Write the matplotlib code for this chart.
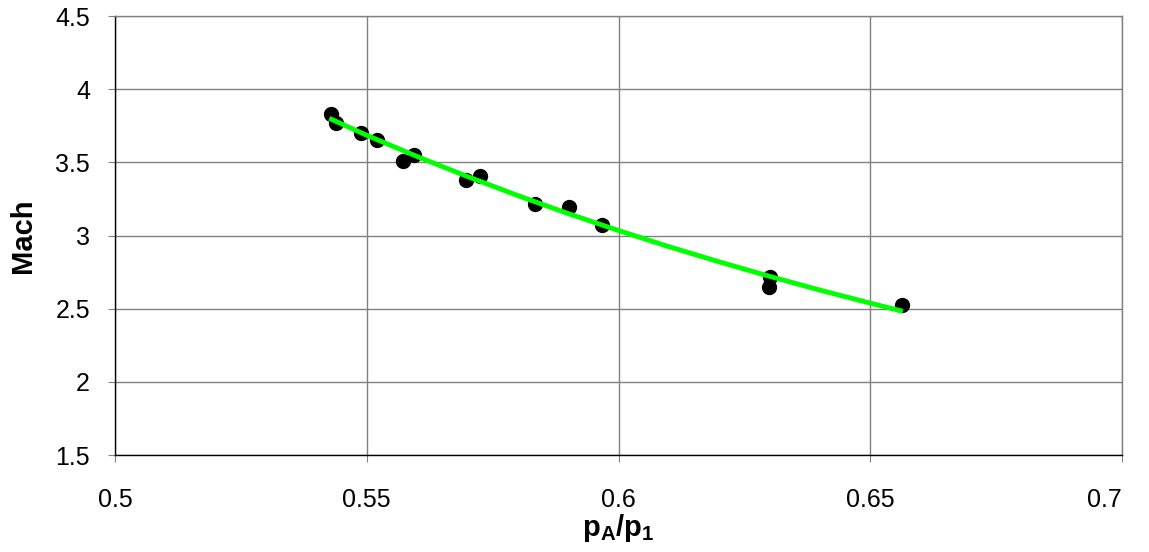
import matplotlib
matplotlib.use('Agg')
import matplotlib.pyplot as plt

plt.rcParams['font.family'] = ['Liberation Sans', 'DejaVu Sans']
plt.rcParams['mathtext.fontset'] = 'custom'
plt.rcParams['mathtext.rm'] = 'Liberation Sans'
plt.rcParams['mathtext.bf'] = 'Liberation Sans:bold'

# measured pressure ratio vs Mach number
pressure_ratio = [0.5429, 0.5439, 0.5488, 0.5520, 0.5571, 0.5593, 0.5697, 0.5724,
                  0.5835, 0.5902, 0.5967, 0.6301, 0.6298, 0.6563]
mach = [3.830, 3.767, 3.698, 3.653, 3.509, 3.548, 3.379, 3.407,
        3.215, 3.197, 3.074, 2.718, 2.650, 2.525]

# fitted trend curve
fit_ratio = [0.543, 0.55, 0.56, 0.57, 0.58, 0.59, 0.60, 0.61, 0.62, 0.63, 0.64, 0.65, 0.656]
fit_mach = [3.794, 3.685, 3.540, 3.403, 3.273, 3.150, 3.034, 2.924, 2.820, 2.721, 2.627, 2.538, 2.486]

x_ticks = [0.5, 0.55, 0.6, 0.65, 0.7]
x_labels = ['0.5', '0.55', '0.6', '0.65', '0.7']
y_ticks = [1.5, 2, 2.5, 3, 3.5, 4, 4.5]
y_labels = ['1.5', '2', '2.5', '3', '3.5', '4', '4.5']

fig = plt.figure(figsize=(11.49, 5.52), dpi=100)
ax = fig.add_axes([0.1001, 0.1757, 0.8764, 0.7953])

ax.plot(pressure_ratio, mach, 'o', color='black', markersize=10, zorder=3)
ax.plot(fit_ratio, fit_mach, '-', color='#00ff00', linewidth=3.5, zorder=4)

ax.set_xlim(0.5, 0.7)
ax.set_ylim(1.5, 4.5)
ax.set_xticks(x_ticks)
ax.set_xticklabels(x_labels)
ax.set_yticks(y_ticks)
ax.set_yticklabels(y_labels)

ax.grid(True, color='#808080', linewidth=1.0)
ax.set_axisbelow(True)
for side in ['top', 'right']:
    ax.spines[side].set_color('#808080')
for side in ['left', 'bottom']:
    ax.spines[side].set_color('black')
for sp in ax.spines.values():
    sp.set_linewidth(1.0)

ax.tick_params(axis='both', direction='out', length=5, color='#808080',
               labelsize=18, labelcolor='black')
ax.tick_params(axis='x', pad=19)
ax.tick_params(axis='y', pad=13)
# keep the last x label inside the figure
ax.get_xticklabels()[-1].set_horizontalalignment('right')

ax.set_xlabel(r'$\mathbf{p}_\mathbf{A}\mathbf{/p}_\mathbf{1}$', fontsize=21, labelpad=0)
ax.set_ylabel('Mach', fontsize=21, fontweight='bold', labelpad=13)

fig.savefig('out.png', dpi=100)
